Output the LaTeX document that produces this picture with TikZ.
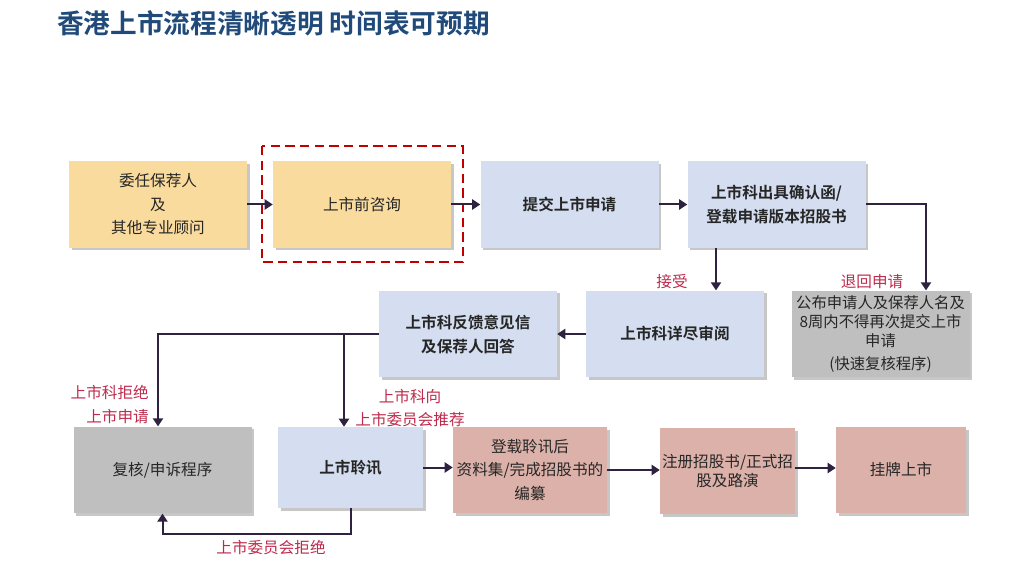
\documentclass[tikz,border=0pt]{standalone}
\usepackage{fontspec}
\setmainfont{Noto Sans CJK SC}
\newfontfamily\cjkbold{Noto Sans CJK SC Bold}
\usetikzlibrary{arrows.meta,shadows,calc}
\definecolor{ybox}{HTML}{FADB9E}
\definecolor{bbox}{HTML}{D5DEF0}
\definecolor{gbox}{HTML}{BFBFBF}
\definecolor{pbox}{HTML}{DBB1A9}
\definecolor{arrc}{HTML}{2F2140}
\definecolor{lblc}{HTML}{BE2A4C}
\definecolor{titc}{HTML}{1F4A7A}
\definecolor{txtc}{HTML}{262626}
\definecolor{dashc}{HTML}{C00000}
\tikzset{
  basebox/.style={rectangle, inner sep=0pt, align=center, text=txtc, font=\fontsize{11.7}{17.6}\selectfont,
    drop shadow={shadow xshift=2pt, shadow yshift=-2pt, fill=black, opacity=0.22}},
  ybx/.style={basebox, fill=ybox},
  bbx/.style={basebox, fill=bbox, font=\cjkbold\fontsize{11.7}{17.6}\selectfont},
  gbx/.style={basebox, fill=gbox},
  pbx/.style={basebox, fill=pbox},
  wide/.style={minimum width=133.5pt, minimum height=65pt},
  arr/.style={draw=arrc, line width=1.5pt, -{Triangle[length=6pt,width=7.5pt]}},
  lbl/.style={text=lblc, inner sep=0pt, font=\fontsize{11.7}{17.3}\selectfont}
}
\begin{document}
\begin{tikzpicture}[x=0.75pt,y=-0.75pt]
\useasboundingbox (0,0) rectangle (1022,574);
\node[anchor=west, inner sep=0pt, text=titc, font=\cjkbold\fontsize{20}{22}\selectfont] (title) at (57,23) {香港上市流程清晰透明 时间表可预期};

\node[ybx, wide] (n1) at (158,204.5) {委任保荐人\\及\\其他专业顾问};
\node[ybx, wide] (n2) at (362,204.5) {上市前咨询};
\node[bbx, wide] (n3) at (569.5,204.5) {提交上市申请};
\node[bbx, wide, font=\cjkbold\fontsize{11.7}{18}\selectfont] (n4) at (776.5,204.5) {上市科出具确认函/\\登载申请版本招股书};
\node[bbx, wide] (n5) at (675,334) {上市科详尽审阅};
\node[bbx, wide, font=\cjkbold\fontsize{11.7}{18}\selectfont] (n6) at (468,334) {上市科反馈意见信\\及保荐人回答};
\node[gbx, wide, font=\fontsize{11.5}{14.3}\selectfont] (n7) at (880.5,334) {公布申请人及保荐人名及\\8周内不得再次提交上市\\申请\\[3pt](快速复核程序)};
\node[gbx, wide] (n8) at (162.5,470) {复核/申诉程序};
\node[bbx, minimum width=108.75pt, minimum height=60.75pt] (n9) at (350.5,467.5) {上市聆讯};
\node[pbx, minimum width=115.5pt, minimum height=64.5pt] (n10) at (530,470) {登载聆讯后\\资料集/完成招股书的\\编纂};
\node[pbx, minimum width=101.25pt, minimum height=64.5pt, font=\fontsize{11.7}{13.8}\selectfont] (n11) at (727.5,471) {注册招股书/正式招\\股及路演};
\node[pbx, minimum width=97.5pt, minimum height=64.5pt] (n12) at (901,470) {挂牌上市};

\draw[dashc, line width=1.7pt, dash pattern=on 7pt off 4pt] (262,146) rectangle (463,262);

\draw[arr] (n1) -- (n2);
\draw[arr] (n2) -- (n3);
\draw[arr] (n3) -- (n4);
\coordinate (c47) at (926,204.5);
\draw[arr] (n4.east) -- (c47) -- (c47 |- n7.north);
\coordinate (c45) at (716,248);
\draw[arr] (c45) -- (c45 |- n5.north);
\draw[arr] (n5) -- (n6);
\coordinate (c68) at (158,334);
\draw[arr] (n6.west) -- (c68) -- (c68 |- n8.north);
\coordinate (c69) at (344,334);
\draw[arr] (c69) -- (c69 |- n9.north);
\coordinate (c98) at (350.5,534);
\draw[arr] (n9.south) -- (c98) -| (n8.south);
\draw[arr] (n9.east) -- (n9.east -| n10.west);
\draw[arr] (n10.east |- 0,470) -- (n11.west |- 0,470);
\draw[arr] (n11.east |- 0,468) -- (n12.west |- 0,468);

\node[lbl] (l1) at (672,282) {接受};
\node[lbl] (l2) at (872,282) {退回申请};
\node[lbl, anchor=east, align=right] (l3) at (149,404.5) {上市科拒绝\\上市申请};
\node[lbl, align=center] (l4) at (410,408.5) {上市科向\\上市委员会推荐};
\node[lbl] (l5) at (271,548) {上市委员会拒绝};
\end{tikzpicture}
\end{document}
